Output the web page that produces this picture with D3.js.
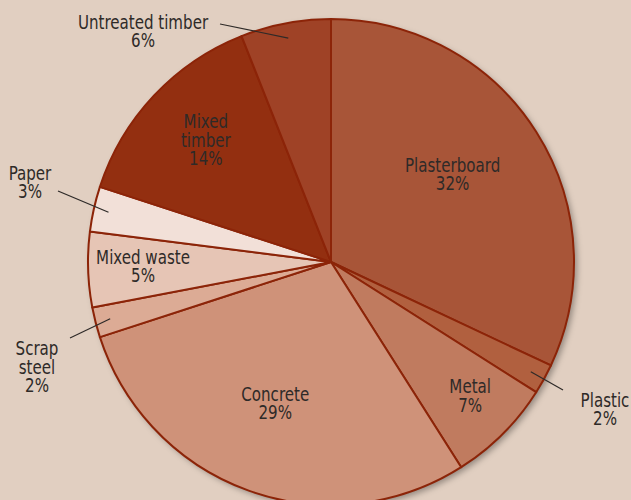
<!DOCTYPE html>
<html>
<head>
<meta charset="utf-8">
<script src="https://cdn.jsdelivr.net/npm/d3@7"></script>
<style>
  html, body { margin: 0; padding: 0; background: #e1cfc1; }
  svg { display: block; }
  text { font-family: "Liberation Sans Narrow", "DejaVu Sans Condensed", sans-serif; font-size: 19.5px; fill: #2e2a28; }
</style>
</head>
<body>
<svg id="chart" width="631" height="500"></svg>
<script>
// waste categories, clockwise from 12 o'clock
var categories = ["Plasterboard", "Plastic", "Metal", "Concrete", "Scrap steel", "Mixed waste", "Paper", "Mixed timber", "Untreated timber"];
var shares = [32, 2, 7, 29, 2, 5, 3, 14, 6];
var labelLines = [["Plasterboard", "32%"], ["Plastic", "2%"], ["Metal", "7%"], ["Concrete", "29%"],
    ["Scrap", "steel", "2%"], ["Mixed waste", "5%"], ["Paper", "3%"], ["Mixed", "timber", "14%"], ["Untreated timber", "6%"]];

var colors = ["#a85538", "#b1603f", "#c07b5f", "#cf9279", "#dcab95", "#e6c5b5", "#f2e0d8", "#932f10", "#9f4226"];

var width = 631, height = 500,
    cx = 331, cy = 262, radius = 243;

var svg = d3.select("#chart");

var defs = svg.append("defs");
var shadow = defs.append("filter").attr("id", "shadow")
    .attr("x", "-10%").attr("y", "-10%").attr("width", "120%").attr("height", "120%");
shadow.append("feDropShadow")
    .attr("dx", 3).attr("dy", 3).attr("stdDeviation", 3)
    .attr("flood-color", "#000").attr("flood-opacity", 0.35);

var g = svg.append("g").attr("transform", "translate(" + cx + "," + cy + ")");

var pie = d3.pie().sort(null).value(function (d) { return d; });
var arcs = pie(shares);
var arc = d3.arc().innerRadius(0).outerRadius(radius);

// shadow disc behind slices
g.append("circle").attr("r", radius).attr("fill", "#8c2408").attr("filter", "url(#shadow)");

g.selectAll("path.slice")
    .data(arcs)
    .enter().append("path")
    .attr("class", "slice")
    .attr("d", arc)
    .attr("fill", function (d, i) { return colors[i]; })
    .attr("stroke", "#8c2408")
    .attr("stroke-width", 2)
    .attr("stroke-linejoin", "round");

function midAngle(d) { return (d.startAngle + d.endAngle) / 2; }
function polar(a, r) { return [Math.sin(a) * r, -Math.cos(a) * r]; }

// label placement: inside labels sit on the mid angle, outside ones get a leader line
var layout = {
    "Plasterboard":     { r: 150, da: -0.06 },
    "Mixed timber":     { r: 175, da: 0.02 },
    "Metal":            { r: 193, da: -0.02 },
    "Concrete":         { r: 152, da: 0.03 },
    "Mixed waste":      { r: 188, da: 0.01 },
    "Untreated timber": { out: [-111, -238], text: [-188, -231] },
    "Paper":            { out: [-273, -71], text: [-301, -80] },
    "Scrap steel":      { out: [-261, 76], text: [-294, 105] },
    "Plastic":          { out: [232, 128], text: [274, 147] }
};
var lineH = 18.5, squeeze = 0.86;

var labels = g.selectAll("g.label")
    .data(arcs)
    .enter().append("g")
    .attr("class", "label");

labels.each(function (d, i) {
    var sel = d3.select(this), L = layout[categories[i]], pos;
    if (L.out) {
        var inner = polar(midAngle(d), 228);
        sel.append("line")
            .attr("x1", inner[0]).attr("y1", inner[1])
            .attr("x2", L.out[0]).attr("y2", L.out[1])
            .attr("stroke", "#2e2a28").attr("stroke-width", 1.2);
        pos = L.text;
    } else {
        pos = polar(midAngle(d) + L.da, L.r);
    }
    var lines = labelLines[i];
    var top = -(lines.length - 1) * lineH / 2;
    var t = sel.append("text")
        .attr("transform", "translate(" + pos[0] + "," + pos[1] + ") scale(" + squeeze + ",1)")
        .attr("text-anchor", "middle");
    lines.forEach(function (s, k) {
        t.append("tspan")
            .attr("x", 0)
            .attr("y", top + k * lineH)
            .attr("dy", "0.35em")
            .text(s);
    });
});
</script>
</body>
</html>
